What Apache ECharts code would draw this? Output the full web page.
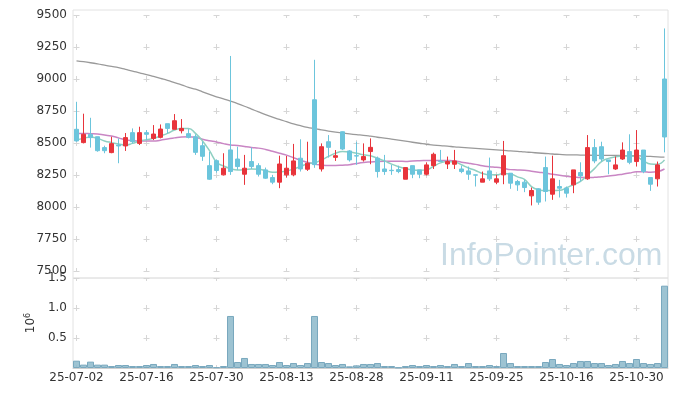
<!DOCTYPE html>
<html>
<head>
<meta charset="utf-8">
<script src="https://cdn.jsdelivr.net/npm/echarts@6/dist/echarts.min.js"></script>
<style>
html,body{margin:0;padding:0;background:#fff;}
#chart{width:677px;height:396px;}
</style>
</head>
<body>
<div id="chart"></div>
<script>
var dates = ['25-07-02','25-07-03','25-07-04','25-07-07','25-07-08','25-07-09','25-07-10','25-07-11','25-07-14','25-07-15',
'25-07-16','25-07-17','25-07-18','25-07-21','25-07-22','25-07-23','25-07-24','25-07-25','25-07-28','25-07-29',
'25-07-30','25-07-31','25-08-01','25-08-04','25-08-05','25-08-06','25-08-07','25-08-08','25-08-11','25-08-12',
'25-08-13','25-08-14','25-08-18','25-08-19','25-08-20','25-08-21','25-08-22','25-08-25','25-08-26','25-08-27',
'25-08-28','25-08-29','25-09-01','25-09-02','25-09-03','25-09-04','25-09-05','25-09-08','25-09-09','25-09-10',
'25-09-11','25-09-12','25-09-15','25-09-16','25-09-17','25-09-18','25-09-19','25-09-22','25-09-23','25-09-24',
'25-09-25','25-09-26','25-09-29','25-09-30','25-10-01','25-10-02','25-10-10','25-10-13','25-10-14','25-10-15',
'25-10-16','25-10-17','25-10-20','25-10-21','25-10-22','25-10-23','25-10-24','25-10-27','25-10-28','25-10-29',
'25-10-30','25-10-31','25-11-03','25-11-04','25-11-05'];

var openP = [8607,8503,8568,8549,8464,8425,8484,8477,8581,8497,
8581,8536,8544,8651,8607,8596,8573,8549,8479,8323,
8362,8251,8446,8375,8256,8355,8323,8290,8230,8194,
8251,8251,8381,8295,8838,8297,8510,8388,8588,8438,
8401,8368,8433,8381,8297,8287,8292,8217,8323,8290,
8256,8323,8360,8336,8334,8297,8282,8251,8194,8282,
8194,8251,8264,8199,8194,8087,8142,8308,8100,8160,
8147,8173,8269,8220,8464,8471,8368,8297,8375,8433,
8355,8445,8230,8220,9000];
var closeP = [8516,8568,8542,8440,8440,8495,8477,8542,8510,8581,
8568,8570,8609,8614,8674,8614,8544,8427,8396,8217,
8285,8303,8277,8316,8303,8316,8256,8225,8194,8336,
8303,8360,8297,8342,8331,8471,8466,8401,8453,8368,
8398,8394,8466,8277,8277,8284,8277,8308,8256,8256,
8329,8412,8355,8355,8360,8277,8256,8249,8220,8220,
8220,8401,8186,8173,8152,8129,8038,8121,8220,8147,
8108,8290,8243,8464,8360,8375,8355,8329,8445,8349,
8445,8277,8178,8329,8547];
var lowP = [8510,8497,8464,8432,8420,8420,8342,8438,8497,8484,
8523,8523,8536,8575,8607,8575,8536,8407,8360,8212,
8268,8246,8251,8290,8173,8297,8238,8220,8178,8147,
8230,8240,8277,8282,8306,8277,8386,8360,8445,8355,
8329,8355,8334,8230,8251,8251,8264,8217,8225,8225,
8246,8297,8355,8297,8297,8264,8212,8160,8194,8204,
8178,8178,8142,8126,8116,8012,8017,8043,8056,8074,
8074,8108,8199,8212,8342,8355,8256,8290,8368,8334,
8316,8264,8126,8160,8427];
var highP = [8822,8729,8697,8549,8479,8549,8536,8578,8614,8627,
8601,8640,8645,8651,8726,8687,8609,8568,8510,8430,
8372,8420,9180,8471,8407,8464,8342,8308,8251,8401,
8399,8493,8529,8510,9150,8497,8562,8445,8590,8445,
8510,8497,8536,8394,8407,8329,8323,8308,8323,8290,
8349,8425,8446,8394,8446,8323,8316,8251,8277,8386,
8251,8516,8264,8212,8212,8152,8147,8394,8401,8212,
8160,8290,8349,8562,8531,8510,8368,8394,8505,8568,
8601,8445,8230,8355,9395];

var ma5 = [8523,8536,8547,8536,8516,8503,8492,8484,8497,8516,
8526,8536,8555,8575,8601,8614,8614,8575,8516,8440,
8352,8320,8300,8290,8292,8297,8295,8285,8272,8275,
8282,8297,8316,8338,8345,8368,8395,8420,8433,8430,
8420,8408,8400,8381,8360,8335,8315,8300,8290,8287,
8290,8318,8345,8355,8352,8330,8305,8285,8262,8252,
8251,8262,8258,8235,8215,8160,8135,8128,8128,8130,
8150,8175,8200,8250,8300,8355,8380,8392,8398,8398,
8392,8360,8336,8334,8368];
var ma20 = [8575,8575,8573,8570,8562,8555,8540,8525,8518,8515,
8515,8515,8522,8532,8540,8547,8549,8545,8530,8518,
8508,8495,8485,8480,8472,8465,8460,8450,8435,8420,
8405,8385,8365,8350,8335,8328,8325,8325,8327,8330,
8340,8348,8352,8355,8357,8358,8358,8356,8360,8362,
8363,8364,8364,8363,8360,8350,8342,8333,8322,8315,
8310,8302,8292,8290,8287,8280,8272,8265,8255,8248,
8240,8235,8230,8230,8232,8237,8242,8248,8256,8265,
8275,8275,8272,8277,8297];
var maLong = [9142,9135,9127,9118,9108,9098,9088,9075,9062,9048,
9035,9020,9005,8990,8972,8955,8935,8920,8900,8880,
8860,8845,8828,8808,8787,8765,8743,8722,8703,8684,
8667,8650,8635,8622,8612,8602,8593,8585,8578,8571,
8565,8560,8553,8545,8538,8530,8522,8514,8506,8498,
8490,8484,8479,8475,8470,8466,8462,8458,8454,8450,
8446,8442,8438,8435,8430,8426,8422,8418,8414,8411,
8408,8407,8406,8405,8404,8404,8403,8403,8402,8402,
8400,8398,8395,8392,8390];

var volume = [122000,56000,106000,56000,56000,33000,50000,50000,33000,33000,
50000,67000,33000,33000,67000,33000,33000,50000,33000,50000,
12000,33000,867000,100000,167000,67000,67000,67000,50000,100000,
50000,83000,50000,83000,867000,100000,83000,50000,67000,28000,
44000,67000,67000,83000,33000,33000,8000,33000,50000,33000,
50000,33000,50000,33000,67000,33000,83000,33000,33000,50000,
33000,250000,83000,33000,33000,33000,33000,100000,150000,67000,
50000,83000,117000,117000,83000,83000,50000,67000,117000,83000,
150000,83000,67000,83000,1372000];

var priceTicks = {min: 7500, max: 9500, interval: 250};
var volTicks = {min: 0, max: 1500000, interval: 500000};

var candles = dates.map(function (d, i) { return [openP[i], closeP[i], lowP[i], highP[i]]; });

var FONT = 'DejaVu Sans';
var plusColor = '#d6d6d6';
var chart = echarts.init(document.getElementById('chart'), null, {renderer: 'canvas'});
chart.setOption({
  animation: false,
  backgroundColor: '#fff',
  grid: [
    {left: 73, top: 15, width: 595, height: 256, show: false},
    {left: 73, top: 278, width: 595, height: 90, show: true, borderColor: '#e2e2e2', borderWidth: 1, backgroundColor: 'transparent'},
    {left: 73, top: 10, width: 595, height: 268, show: true, borderColor: '#e2e2e2', borderWidth: 1, backgroundColor: 'transparent'}
  ],
  xAxis: [
    {type: 'category', gridIndex: 0, data: dates, boundaryGap: true,
     axisLine: {show: false}, axisTick: {show: false}, axisLabel: {show: false},
     splitLine: {show: true, interval: 9, alignWithLabel: true,
       lineStyle: {color: plusColor, width: 1, type: [6, 26], dashOffset: 3}}},
    {type: 'category', gridIndex: 1, data: dates, boundaryGap: true,
     axisLine: {show: true, lineStyle: {color: '#d0d0d0'}}, axisTick: {show: false},
     axisLabel: {interval: 9, color: '#333', fontFamily: FONT, fontSize: 12, margin: 4},
     splitLine: {show: true, interval: 9, alignWithLabel: true,
       lineStyle: {color: plusColor, width: 1, type: [6, 24], dashOffset: 3}}},
    {type: 'value', gridIndex: 2, show: false, min: 0, max: 1}
  ],
  yAxis: [
    {type: 'value', gridIndex: 0, min: priceTicks.min, max: priceTicks.max, interval: priceTicks.interval,
     axisLine: {show: false}, axisTick: {show: false},
     axisLabel: {color: '#333', fontFamily: FONT, fontSize: 12, margin: 6,
       formatter: function (v) { return String(v); }},
     splitLine: {show: true, lineStyle: {color: plusColor, width: 1, type: [6, 64], dashOffset: 69.5}}},
    {type: 'value', gridIndex: 1, min: volTicks.min, max: volTicks.max, interval: volTicks.interval,
     axisLine: {show: false}, axisTick: {show: false},
     axisLabel: {color: '#333', fontFamily: FONT, fontSize: 12, margin: 6,
       formatter: function (v) { return v === 0 ? '' : (v / 1e6).toFixed(1); }},
     splitLine: {show: true, lineStyle: {color: plusColor, width: 1, type: [6, 64], dashOffset: 69.5}},
     name: '{a|10}{b|6}', nameLocation: 'middle', nameRotate: 90, nameGap: 31,
     nameTextStyle: {color: '#333', fontFamily: FONT,
       rich: {a: {fontSize: 12, fontFamily: FONT, color: '#333'},
              b: {fontSize: 8, fontFamily: FONT, color: '#333', padding: [0, 0, 7, 0]}}}},
    {type: 'value', gridIndex: 2, show: false, min: 0, max: 1}
  ],
  graphic: [{
    type: 'text', left: 440, top: 240, silent: true, z: 0,
    style: {text: 'InfoPointer.com', font: '32px "Liberation Sans"', fill: '#c9dbe5'}
  }],
  series: [
    {name: 'MA long', type: 'line', xAxisIndex: 0, yAxisIndex: 0, data: maLong, showSymbol: false, smooth: true,
     lineStyle: {color: '#9a9a9a', width: 1.3}, z: 2},
    {name: 'MA20', type: 'line', xAxisIndex: 0, yAxisIndex: 0, data: ma20, showSymbol: false, smooth: true,
     lineStyle: {color: '#c986c4', width: 1.5}, z: 2},
    {name: 'MA5', type: 'line', xAxisIndex: 0, yAxisIndex: 0, data: ma5, showSymbol: false, smooth: true,
     lineStyle: {color: '#8fd0c2', width: 1.5}, z: 2},
    {name: 'price', type: 'candlestick', xAxisIndex: 0, yAxisIndex: 0, data: candles, barWidth: 5, z: 3,
     itemStyle: {color: '#e8343b', color0: '#6cc5dc', borderColor: '#e8343b', borderColor0: '#6cc5dc', borderWidth: 1}},
    {name: 'volume', type: 'bar', xAxisIndex: 1, yAxisIndex: 1, data: volume, barCategoryGap: '0%',
     itemStyle: {color: 'rgba(140,184,202,0.85)', borderColor: '#79a8be', borderWidth: 1}}
  ]
});
</script>
</body>
</html>
